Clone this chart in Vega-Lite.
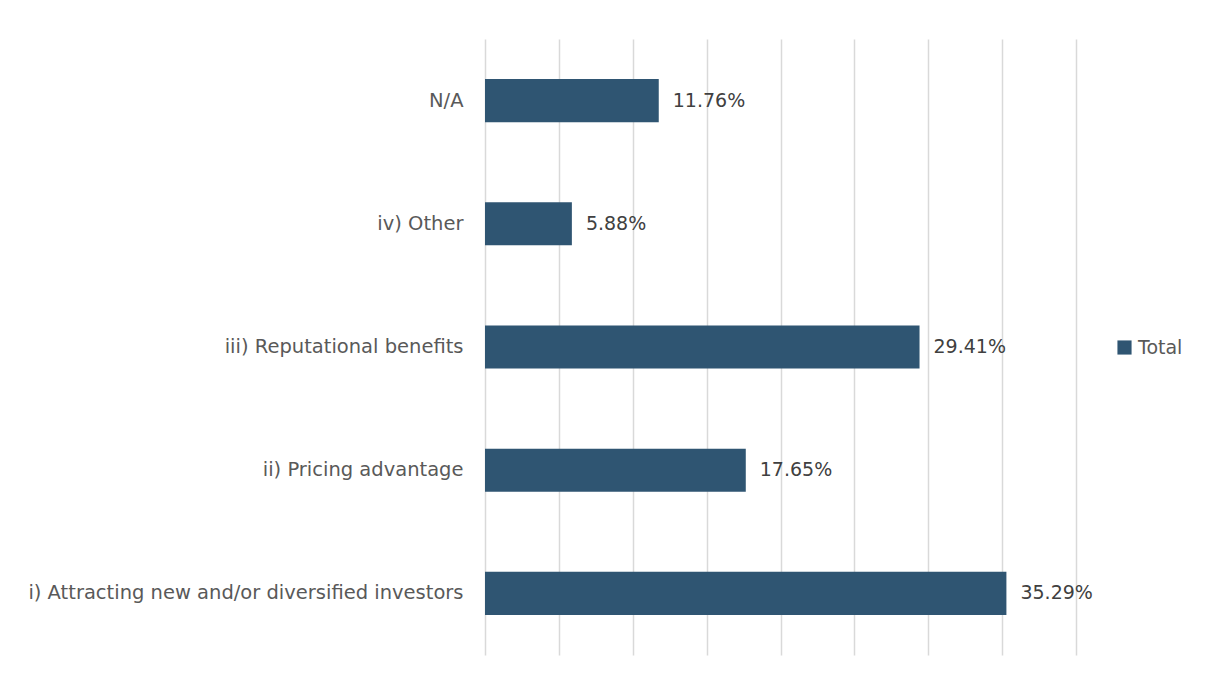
{
  "$schema": "https://vega.github.io/schema/vega-lite/v6.json",
  "width": 591,
  "height": 616,
  "autosize": {"type": "none"},
  "padding": {"left": 485, "top": 39, "right": 134, "bottom": 23},
  "background": "#ffffff",
  "config": {
    "view": {"stroke": null},
    "font": "DejaVu Sans",
    "text": {"font": "DejaVu Sans"}
  },
  "data": {
    "values": [
      {"category": "N/A", "value": 0.1176, "series": "Total"},
      {"category": "iv) Other", "value": 0.0588, "series": "Total"},
      {"category": "iii) Reputational benefits", "value": 0.2941, "series": "Total"},
      {"category": "ii) Pricing advantage", "value": 0.1765, "series": "Total"},
      {"category": "i) Attracting new and/or diversified investors", "value": 0.3529, "series": "Total"}
    ]
  },
  "encoding": {
    "y": {
      "field": "category",
      "type": "nominal",
      "sort": ["N/A", "iv) Other", "iii) Reputational benefits", "ii) Pricing advantage", "i) Attracting new and/or diversified investors"],
      "scale": {"paddingInner": 0.65, "paddingOuter": 0.325},
      "axis": {
        "title": null,
        "domain": false,
        "ticks": false,
        "labelPadding": 22,
        "labelFontSize": 19.5,
        "labelColor": "#595959",
        "labelFont": "DejaVu Sans",
        "labelLimit": 600
      }
    },
    "x": {
      "field": "value",
      "type": "quantitative",
      "scale": {"domain": [0, 0.4], "nice": false},
      "axis": {
        "title": null,
        "domain": false,
        "ticks": false,
        "labels": false,
        "values": [0, 0.05, 0.1, 0.15, 0.2, 0.25, 0.3, 0.35, 0.4],
        "gridColor": "#d9d9d9",
        "gridWidth": 1.5
      }
    }
  },
  "layer": [
    {
      "mark": {"type": "bar"},
      "encoding": {
        "color": {
          "field": "series",
          "type": "nominal",
          "scale": {"range": ["#2F5572"]},
          "legend": {
            "title": null,
            "orient": "none",
            "legendX": 630,
            "legendY": 299,
            "symbolType": "square",
            "symbolSize": 200,
            "symbolStrokeWidth": 0,
            "labelFontSize": 19,
            "labelColor": "#595959",
            "labelFont": "DejaVu Sans",
            "labelOffset": 4
          }
        }
      }
    },
    {
      "mark": {"type": "text", "align": "left", "baseline": "middle", "dx": 14, "fontSize": 19, "color": "#404040"},
      "encoding": {
        "text": {"field": "value", "type": "quantitative", "format": ".2%"}
      }
    }
  ]
}
